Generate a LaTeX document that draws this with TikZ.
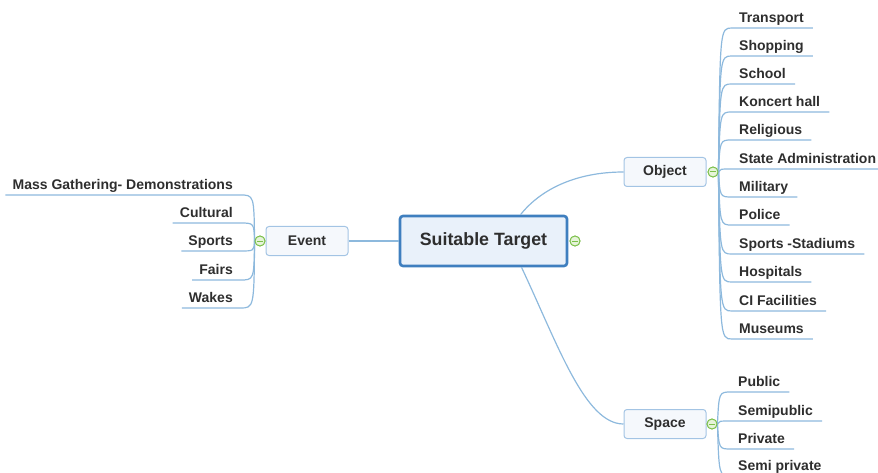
\documentclass[tikz,border=0pt]{standalone}
\usepackage{fontspec}
\setmainfont{Liberation Sans}
\usepackage{tikz}
\usepackage{xcolor}

\definecolor{txtgray}{HTML}{2E2E2E}
\definecolor{linkblue}{HTML}{8DB9DD}
\definecolor{rootblue}{HTML}{3F7FBF}
\definecolor{rootfill}{HTML}{E9F1FA}
\definecolor{topicblue}{HTML}{A3C4E4}
\definecolor{topicfill}{HTML}{F5F8FC}
\definecolor{knobgreen}{HTML}{7CC04B}
\definecolor{knobfill}{HTML}{E6F4D9}

\begin{document}
\begin{tikzpicture}[x=1pt, y=-1pt,
    root/.style={draw=rootblue, line width=2.6, fill=rootfill, rounded corners=3,
        minimum width=167, minimum height=50, text=txtgray,
        font=\bfseries\fontsize{17.8}{20}\selectfont},
    topic/.style={draw=topicblue, line width=1, fill=topicfill, rounded corners=3,
        minimum width=82, minimum height=29, text=txtgray,
        font=\bfseries\fontsize{14}{16}\selectfont},
    leaf/.style={inner xsep=7, inner ysep=2, text height=10, text depth=3, text=txtgray,
        font=\bfseries\fontsize{14}{16}\selectfont},
    link/.style={draw=linkblue, line width=1.2},
    knob/.style={circle, draw=knobgreen, fill=knobfill, line width=0.9,
        minimum size=10, inner sep=0,
        path picture={\draw[knobgreen, line width=1]
            ([xshift=2]path picture bounding box.west) --
            ([xshift=-2]path picture bounding box.east);}}]

    % Page frame
    \useasboundingbox (0,0) rectangle (878,473);
    \clip (0,0) rectangle (878,473);

    % Central topic and main branches
    \node[root] (target) at (483.5,241) {Suitable Target};
    \node[knob] (targetknob) at (575,241) {};
    \node[topic] (event) at (307,241) {Event};
    \node[knob] (eventknob) at (260,241) {};
    \node[topic] (object) at (665,172) {Object};
    \node[knob] (objectknob) at (713,172) {};
    \node[topic] (space) at (665,424) {Space};
    \node[knob] (spaceknob) at (712,424) {};

    \draw[link] (event.east) -- (target.west);
    \draw[link] ([xshift=37]target.north) .. controls (540,190) and (575,172) .. (object.west);
    \draw[link] ([xshift=38]target.south) .. controls (558,345) and (585,424) .. (space.west);

    % Object subtopics
    \node[leaf, anchor=south west] (transport) at (732,28) {Transport};
    \node[leaf, anchor=south west] (shopping) at (732,56) {Shopping};
    \node[leaf, anchor=south west] (school) at (732,84) {School};
    \node[leaf, anchor=south west] (koncert) at (732,112) {Koncert hall};
    \node[leaf, anchor=south west] (religious) at (732,140) {Religious};
    \node[leaf, anchor=south west] (stateadmin) at (732,169) {State Administration};
    \node[leaf, anchor=south west] (military) at (732,197) {Military};
    \node[leaf, anchor=south west] (police) at (732,225) {Police};
    \node[leaf, anchor=south west] (stadiums) at (732,254) {Sports -Stadiums};
    \node[leaf, anchor=south west] (hospitals) at (732,282) {Hospitals};
    \node[leaf, anchor=south west] (cifac) at (732,311) {CI Facilities};
    \node[leaf, anchor=south west] (museums) at (732,339) {Museums};

    \foreach \n in {transport, shopping, school, koncert, religious, stateadmin,
                    military, police, stadiums, hospitals, cifac, museums}
        \draw[link] (objectknob.east) .. controls ([xshift=-12]\n.south west) ..
            (\n.south west) -- ([xshift=2]\n.south east);

    % Event subtopics
    \node[leaf, anchor=south east] (massgath) at (240,195) {Mass Gathering- Demonstrations};
    \node[leaf, anchor=south east] (cultural) at (240,223) {Cultural};
    \node[leaf, anchor=south east] (sports) at (240,251) {Sports};
    \node[leaf, anchor=south east] (fairs) at (240,280) {Fairs};
    \node[leaf, anchor=south east] (wakes) at (240,308) {Wakes};

    \foreach \n in {massgath, cultural, sports, fairs, wakes}
        \draw[link] (eventknob.west) .. controls ([xshift=14]\n.south east) ..
            (\n.south east) -- (\n.south west);

    % Space subtopics
    \node[leaf, anchor=south west] (public) at (731,392) {Public};
    \node[leaf, anchor=south west] (semipublic) at (731,421) {Semipublic};
    \node[leaf, anchor=south west] (private) at (731,449) {Private};
    \node[leaf, anchor=south west] (semiprivate) at (731,476) {Semi private};

    \foreach \n in {public, semipublic, private, semiprivate}
        \draw[link] (spaceknob.east) .. controls ([xshift=-12]\n.south west) ..
            (\n.south west) -- ([xshift=2]\n.south east);

    % Knobs on top of the branch lines
    \foreach \k/\x/\y in {targetknob/575/241, eventknob/260/241, objectknob/713/172, spaceknob/712/424}
        \node[knob] at (\x,\y) {};
\end{tikzpicture}
\end{document}
